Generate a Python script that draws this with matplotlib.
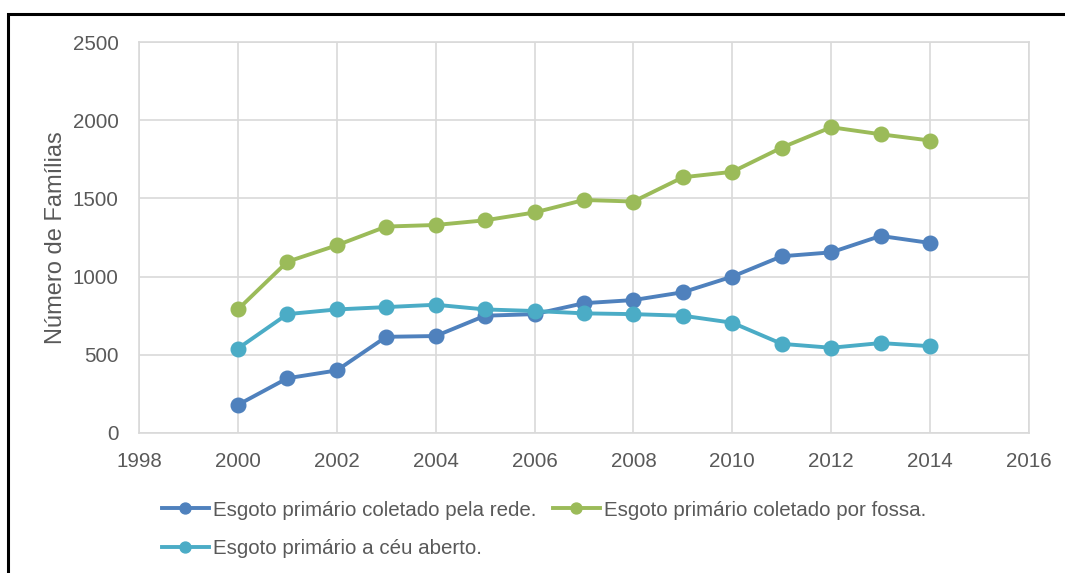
import matplotlib
matplotlib.use("Agg")
import matplotlib.pyplot as plt
from matplotlib.patches import Rectangle

# Sewage destination of households, 2000-2014
years = [2000, 2001, 2002, 2003, 2004, 2005, 2006, 2007,
         2008, 2009, 2010, 2011, 2012, 2013, 2014]
rede = [180, 350, 400, 615, 620, 750, 760, 830,
        850, 900, 1000, 1130, 1155, 1260, 1215]
fossa = [790, 1095, 1200, 1320, 1330, 1360, 1410, 1490,
         1480, 1635, 1670, 1825, 1955, 1910, 1870]
ceu_aberto = [540, 760, 790, 805, 820, 790, 780, 765,
              760, 750, 705, 570, 545, 575, 555]

labels = ["Esgoto primário coletado pela rede.",
          "Esgoto primário coletado por fossa.",
          "Esgoto primário a céu aberto."]
colors = ["#4f81bd", "#9bbb59", "#4bacc6"]

x_ticks = list(range(1998, 2017, 2))
y_ticks = [0, 500, 1000, 1500, 2000, 2500]

plt.rcParams["font.family"] = ["Liberation Sans", "DejaVu Sans"]
text_color = "#595959"
grid_color = "#d9d9d9"

fig = plt.figure(figsize=(10.65, 5.73), dpi=100)
ax = fig.add_axes([139 / 1065, 1 - 433 / 573, 890 / 1065, 391 / 573])

handles = []
for series, lab, col in zip([rede, fossa, ceu_aberto], labels, colors):
    h, = ax.plot(years, series, color=col, lw=2.8, marker="o",
                 markersize=10.5, label=lab, zorder=3)
    handles.append(h)

ax.set_xlim(1998, 2016)
ax.set_ylim(0, 2500)
ax.set_xticks(x_ticks)
ax.set_yticks(y_ticks)
ax.grid(True, color=grid_color, lw=1.2)
ax.set_axisbelow(True)
for sp in ax.spines.values():
    sp.set_color(grid_color)
    sp.set_linewidth(1.2)
ax.tick_params(length=0, labelsize=14.8, colors=text_color)
ax.tick_params(axis="y", pad=14.5)
ax.tick_params(axis="x", pad=14)
ax.set_ylabel("Número de Famílias", fontsize=17, color=text_color, labelpad=4)

leg = fig.legend([handles[0], handles[2], handles[1]],
                 [labels[0], labels[2], labels[1]],
                 ncol=2, loc="upper left", bbox_to_anchor=(143 / 1065, 1 - 482 / 573),
                 frameon=False, fontsize=14.8, handlelength=2.3, handletextpad=0.2,
                 columnspacing=0.8, labelspacing=0.95, markerscale=0.75)
for t in leg.get_texts():
    t.set_color(text_color)

# outer frame of the chart area
fig.patches.append(Rectangle((8 / 1065, -0.1), 1.2, 1 - 14 / 573 + 0.1,
                             transform=fig.transFigure, fill=False,
                             edgecolor="black", lw=2.2, zorder=10))

fig.savefig("out.png", dpi=100)
